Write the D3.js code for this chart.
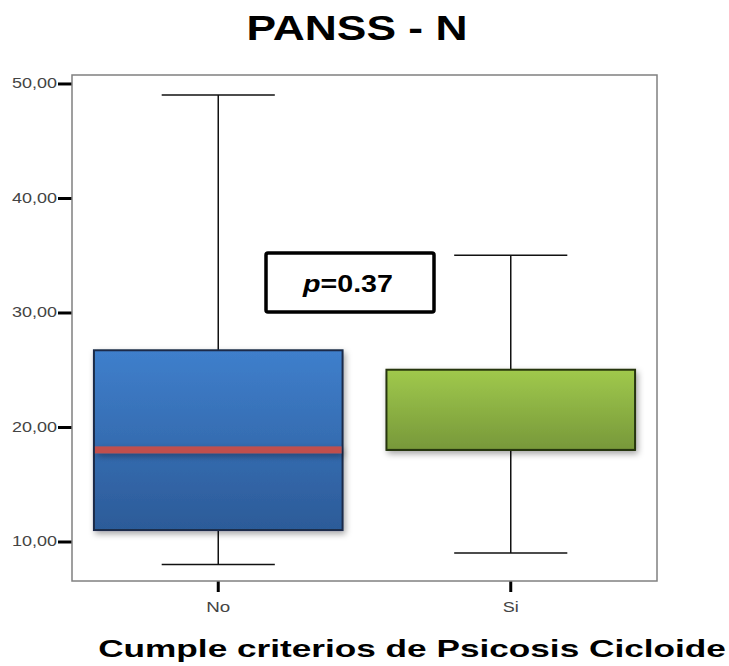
<!DOCTYPE html>
<html><head><meta charset="utf-8">
<script src="https://cdn.jsdelivr.net/npm/d3@7"></script>
<style>html,body{margin:0;padding:0;background:#fff;}svg{display:block;}</style>
</head><body>
<svg id="chart" width="729" height="666"></svg>
<script>
// ---- data ----
const categories = ["No", "Si"];
const whiskerLow = [8, 9];
const q1 = [11, 18];
const median = [18, 18];
const q3 = [26.7, 25];
const whiskerHigh = [49, 35];
const yTicks = [10, 20, 30, 40, 50];
const title = "PANSS - N";
const xTitle = "Cumple criterios de Psicosis Cicloide";
const pLabel = "=0.37";

// ---- layout ----
const svg = d3.select("#chart");
const L = 72, T = 75, R = 657, B = 581;
const y = d3.scaleLinear().domain([6.55, 50.74]).range([B, T]);
const x = d3.scaleBand().domain(categories).range([L, R]).paddingInner(0.15).paddingOuter(0.075);
const FONT = "Liberation Sans, Arial, sans-serif";

// horizontally stretched text: anchor-centred at cx, width w
function stretchText(parent, cx, baseY, w, size, bold) {
  const g = parent.append("g");
  const t = g.append("text").attr("x", 0).attr("y", 0).attr("text-anchor", "middle")
    .attr("font-family", FONT).attr("font-weight", bold ? "bold" : "normal").attr("font-size", size).attr("fill", "#000");
  return {g, t, fit() {
    const nat = t.node().getComputedTextLength();
    g.attr("transform", `translate(${cx},${baseY}) scale(${w / nat},1)`);
  }};
}

const defs = svg.append("defs");
const f = defs.append("filter").attr("id", "sh").attr("filterUnits", "userSpaceOnUse")
  .attr("x", 0).attr("y", 0).attr("width", 729).attr("height", 666);
f.append("feDropShadow").attr("dx", 2).attr("dy", 3).attr("stdDeviation", 3).attr("flood-color", "#000").attr("flood-opacity", 0.35);
const grads = [["gNo", "#3f7fcc", "#2c5b98"], ["gSi", "#a0c94c", "#77983a"]];
grads.forEach(([id, c1, c2]) => {
  const g = defs.append("linearGradient").attr("id", id).attr("x1", 0).attr("y1", 0).attr("x2", 0).attr("y2", 1);
  g.append("stop").attr("offset", "0%").attr("stop-color", c1);
  g.append("stop").attr("offset", "100%").attr("stop-color", c2);
});
const fills = ["url(#gNo)", "url(#gSi)"];
const borders = ["#1a2c48", "#26360f"];

// title
const ti = stretchText(svg, 357, 40, 221, 35, true);
ti.t.text(title); ti.fit();

// y axis
const yAxis = d3.axisLeft(y).tickValues(yTicks).tickSizeInner(14).tickSizeOuter(0).tickPadding(1)
  .tickFormat(d => d3.format(".2f")(d).replace(".", ","));
const ya = svg.append("g").attr("transform", `translate(${L},0)`).call(yAxis);
ya.select(".domain").remove();
ya.selectAll(".tick line").attr("stroke", "#000").attr("stroke-width", 3);
ya.selectAll(".tick text").attr("font-family", FONT).attr("font-size", 14)
  .attr("fill", "#444").attr("textLength", 45).attr("lengthAdjust", "spacingAndGlyphs");

// x axis
const xAxis = d3.axisBottom(x).tickSizeInner(11).tickSizeOuter(0).tickPadding(10);
const xa = svg.append("g").attr("transform", `translate(0,${B})`).call(xAxis);
xa.select(".domain").remove();
xa.selectAll(".tick line").attr("stroke", "#000").attr("stroke-width", 3);
xa.selectAll(".tick text").attr("font-family", FONT).attr("font-size", 14)
  .attr("fill", "#444").attr("dy", null).attr("y", 31)
  .each(function(d){ d3.select(this).attr("textLength", d === "No" ? 24 : 16).attr("lengthAdjust", "spacingAndGlyphs"); });

// frame
svg.append("rect").attr("x", L).attr("y", T).attr("width", R - L).attr("height", B - T)
  .attr("fill", "none").attr("stroke", "#808080").attr("stroke-width", 1.5);

// boxes
const bw = x.bandwidth();
const capW = bw * 0.455;
categories.forEach((c, i) => {
  const cx = x(c) + bw / 2;
  const g = svg.append("g");
  const ln = (x1, x2, y1, y2) => g.append("line").attr("x1", x1).attr("x2", x2).attr("y1", y1).attr("y2", y2)
    .attr("stroke", "#111").attr("stroke-width", 1.5);
  ln(cx, cx, y(whiskerHigh[i]), y(q3[i]));
  ln(cx, cx, y(q1[i]), y(whiskerLow[i]));
  ln(cx - capW / 2, cx + capW / 2, y(whiskerHigh[i]), y(whiskerHigh[i]));
  ln(cx - capW / 2, cx + capW / 2, y(whiskerLow[i]), y(whiskerLow[i]));
  // box
  g.append("rect").attr("x", x(c)).attr("y", y(q3[i])).attr("width", bw).attr("height", y(q1[i]) - y(q3[i]))
    .attr("fill", fills[i]).attr("stroke", borders[i]).attr("stroke-width", 2).attr("filter", "url(#sh)");
  // median
  if (i === 0) {
    g.append("rect").attr("x", x(c) + 1).attr("width", bw - 2).attr("y", y(median[i]) - 3.5).attr("height", 7)
      .attr("fill", "#c0504d").attr("filter", "url(#sh)");
  } else {
    g.append("line").attr("x1", x(c)).attr("x2", x(c) + bw).attr("y1", y(median[i])).attr("y2", y(median[i]))
      .attr("stroke", borders[i]).attr("stroke-width", 2);
  }
});

// p-value box
svg.append("rect").attr("x", 266).attr("y", 253).attr("width", 168).attr("height", 59).attr("rx", 2)
  .attr("fill", "#fff").attr("stroke", "#000").attr("stroke-width", 3.5);
const pv = stretchText(svg, 348, 292, 90, 24, true);
pv.t.append("tspan").attr("font-style", "italic").text("p");
pv.t.append("tspan").text(pLabel);
pv.fit();

// x title
const xt = stretchText(svg, 412, 657, 628, 24, true);
xt.t.text(xTitle); xt.fit();
</script>
</body></html>
